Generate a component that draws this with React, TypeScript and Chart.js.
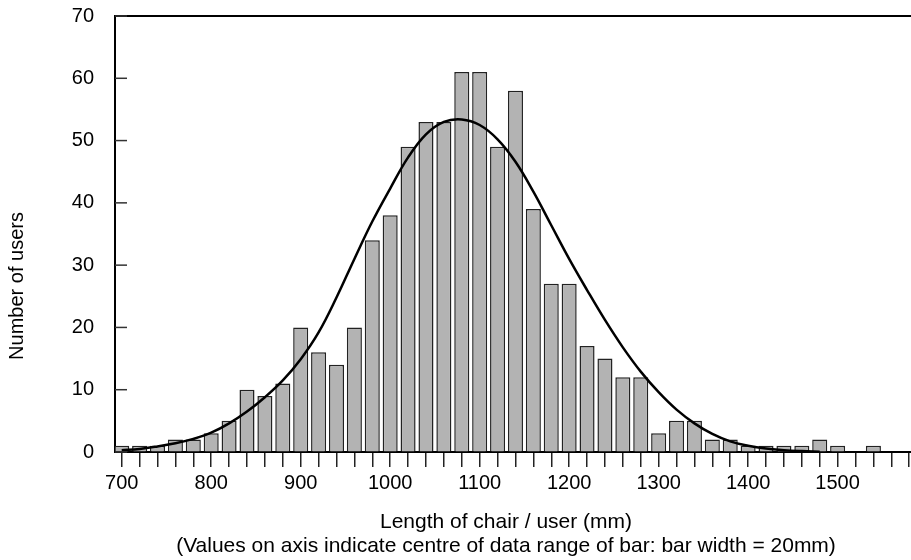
import React, { useEffect, useRef } from 'react';
import { Chart, registerables } from 'chart.js';

Chart.register(...registerables);

// Bar centres (mm) and counts of users
const barCentres = [
  700, 720, 740, 760, 780, 800, 820, 840, 860, 880,
  900, 920, 940, 960, 980, 1000, 1020, 1040, 1060, 1080,
  1100, 1120, 1140, 1160, 1180, 1200, 1220, 1240, 1260, 1280,
  1300, 1320, 1340, 1360, 1380, 1400, 1420, 1440, 1460, 1480,
  1500, 1520, 1540, 1560,
];
const userCounts = [
  1, 1, 1, 2, 2, 3, 5, 10, 9, 11,
  20, 16, 14, 20, 34, 38, 49, 53, 53, 61,
  61, 49, 58, 39, 27, 27, 17, 15, 12, 12,
  3, 5, 5, 2, 2, 1, 1, 1, 1, 2,
  1, 0, 1, 0,
];

// Fitted curve
const curveX = [
  700, 720, 740, 760, 780, 800, 820, 840, 860, 880,
  900, 920, 940, 960, 980, 1000, 1020, 1040, 1060, 1080,
  1100, 1120, 1140, 1160, 1180, 1200, 1220, 1240, 1260, 1280,
  1300, 1320, 1340, 1360, 1380, 1400, 1420, 1440, 1460, 1480,
];
const curveY = [
  0.3, 0.5, 0.9, 1.4, 2.1, 3.1, 4.6, 6.5, 8.8, 11.5,
  14.9, 19.2, 24.8, 31, 37, 42.3, 47.3, 51, 53, 53.4,
  52.5, 50.2, 46.6, 41.8, 36.4, 31, 26, 21.2, 16.8, 12.9,
  9.6, 6.8, 4.6, 2.9, 1.7, 1.0, 0.55, 0.3, 0.15, 0.05,
];

// Axis ticks
const xTickValues = [
  700, 720, 740, 760, 780, 800, 820, 840, 860, 880,
  900, 920, 940, 960, 980, 1000, 1020, 1040, 1060, 1080,
  1100, 1120, 1140, 1160, 1180, 1200, 1220, 1240, 1260, 1280,
  1300, 1320, 1340, 1360, 1380, 1400, 1420, 1440, 1460, 1480,
  1500, 1520, 1540, 1560, 1580,
];
const xLabelledTicks = [700, 800, 900, 1000, 1100, 1200, 1300, 1400, 1500];
const yTickValues = [0, 10, 20, 30, 40, 50, 60, 70];

const xTitle = [
  'Length of chair / user (mm)',
  '(Values on axis indicate centre of data range of bar: bar width = 20mm)',
];
const yTitle = 'Number of users';

const FONT = '"Liberation Sans", Arial, Helvetica, sans-serif';

const framePlugin = {
  id: 'frame',
  afterDraw(chart: any) {
    const { ctx, chartArea, scales } = chart;
    ctx.save();
    // top border
    ctx.strokeStyle = '#000';
    ctx.lineWidth = 2;
    ctx.beginPath();
    ctx.moveTo(chartArea.left - 1, chartArea.top);
    ctx.lineTo(chartArea.right, chartArea.top);
    ctx.stroke();
    // inner y ticks
    ctx.strokeStyle = '#333';
    ctx.lineWidth = 1.5;
    for (const v of yTickValues) {
      const y = scales.y.getPixelForValue(v);
      ctx.beginPath();
      ctx.moveTo(chartArea.left, y);
      ctx.lineTo(chartArea.left + 12, y);
      ctx.stroke();
    }
    // x title (two lines)
    ctx.fillStyle = '#000';
    ctx.font = `21px ${FONT}`;
    ctx.textAlign = 'center';
    ctx.textBaseline = 'alphabetic';
    ctx.fillText(xTitle[0], 506, 528);
    ctx.fillText(xTitle[1], 506, 552);
    // y title
    ctx.font = `20px ${FONT}`;
    ctx.textBaseline = 'middle';
    ctx.translate(17, 286);
    ctx.rotate(-Math.PI / 2);
    ctx.fillText(yTitle, 0, 0);
    ctx.restore();
  },
};

export default function App() {
  const ref = useRef<HTMLCanvasElement>(null);

  useEffect(() => {
    document.body.style.margin = '0';
    const chart = new Chart(ref.current as HTMLCanvasElement, {
      type: 'bar',
      data: {
        datasets: [
          {
            type: 'line',
            data: curveX.map((x, i) => ({ x, y: curveY[i] })),
            borderColor: '#000',
            borderWidth: 2.5,
            pointRadius: 0,
            tension: 0.4,
            fill: false,
            order: 0,
          } as any,
          {
            type: 'bar',
            data: barCentres.map((x, i) => ({ x, y: userCounts[i] })),
            backgroundColor: '#b3b3b3',
            borderColor: '#222',
            borderWidth: 1.5,
            barPercentage: 0.84,
            categoryPercentage: 1,
            order: 1,
          } as any,
        ],
      },
      options: {
        responsive: false,
        animation: false,
        layout: { padding: { top: 16, left: 0, right: 0, bottom: 0 } },
        plugins: { legend: { display: false }, tooltip: { enabled: false } },
        scales: {
          x: {
            type: 'linear',
            min: 692.5,
            max: 1582,
            offset: false,
            grid: {
              offset: false,
              drawOnChartArea: false,
              drawTicks: true,
              tickLength: 15,
              color: '#222',
              lineWidth: 1.5,
            },
            border: { color: '#000', width: 2 },
            ticks: {
              autoSkip: false,
              maxRotation: 0,
              minRotation: 0,
              padding: 4,
              color: '#000',
              font: { family: FONT, size: 20 },
              callback: (v: any) => (xLabelledTicks.includes(Number(v)) ? String(v) : ''),
            },
            afterBuildTicks: (s: any) => {
              s.ticks = xTickValues.map((v) => ({ value: v }));
            },
            afterFit: (s: any) => {
              s.height = 108;
              s.paddingLeft = 0;
              s.paddingRight = 0;
            },
          } as any,
          y: {
            min: 0,
            max: 70,
            grid: { drawOnChartArea: false, drawTicks: false },
            border: { color: '#000', width: 2 },
            ticks: {
              stepSize: 10,
              padding: 21,
              color: '#000',
              font: { family: FONT, size: 20 },
            },
            afterBuildTicks: (s: any) => {
              s.ticks = yTickValues.map((v) => ({ value: v }));
            },
            afterFit: (s: any) => {
              s.width = 115;
              s.paddingTop = 0;
              s.paddingBottom = 0;
            },
          } as any,
        },
      },
      plugins: [framePlugin],
    });
    return () => chart.destroy();
  }, []);

  return (
    <div style={{ width: 911, height: 560 }}>
      <canvas ref={ref} width={911} height={560} style={{ display: 'block' }} />
    </div>
  );
}
